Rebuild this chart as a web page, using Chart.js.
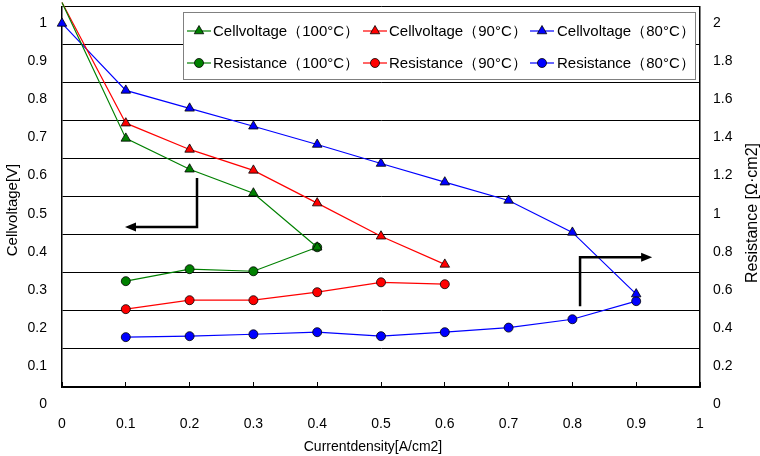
<!DOCTYPE html>
<html>
<head>
<meta charset="utf-8">
<script src="https://cdn.jsdelivr.net/npm/chart.js@4.4.1/dist/chart.umd.min.js"></script>
<style>
  body { margin: 0; background: #fff; }
  #chart { display: block; }
</style>
</head>
<body>
<canvas id="chart" width="760" height="456"></canvas>
<script>
// current density categories [A/cm2]
const currentDensity = [0, 0.1, 0.2, 0.3, 0.4, 0.5, 0.6, 0.7, 0.8, 0.9];

// cell voltage [V]
const cellVoltage100 = [1.055, 0.698, 0.617, 0.554, 0.412];
const cellVoltage90 = [1.055, 0.738, 0.669, 0.614, 0.528, 0.441, 0.367];
const cellVoltage80 = [1.0, 0.824, 0.777, 0.730, 0.682, 0.632, 0.583, 0.535, 0.451, 0.289];

// resistance [Ohm cm2]
const resistance100 = [null, 0.646, 0.709, 0.698, 0.824];
const resistance90 = [null, 0.499, 0.546, 0.546, 0.588, 0.640, 0.630];
const resistance80 = [null, 0.352, 0.357, 0.367, 0.378, 0.357, 0.378, 0.402, 0.446, 0.541];

// tick labels
const xTickLabels = ["0", "0.1", "0.2", "0.3", "0.4", "0.5", "0.6", "0.7", "0.8", "0.9", "1"];
const yTickLabels = ["0", "0.1", "0.2", "0.3", "0.4", "0.5", "0.6", "0.7", "0.8", "0.9", "1"];
const y2TickLabels = ["0", "0.2", "0.4", "0.6", "0.8", "1", "1.2", "1.4", "1.6", "1.8", "2"];

const labelFont = "Arial, 'Liberation Sans', sans-serif";
const tickFont = "'Liberation Sans Narrow', 'Arial Narrow', Arial, 'Liberation Sans', sans-serif";

// the gridlines of the original sit half a step above the labelled values
const yShift = 0.045;
const y2Shift = 0.09;

function points(values) {
    return values.map((v, i) => ({ x: currentDensity[i], y: v }));
}

function series(label, values, color, style, axis, hideFirst) {
    return {
        label: label,
        data: points(values),
        yAxisID: axis,
        borderColor: color,
        backgroundColor: color,
        borderWidth: 1.2,
        pointStyle: style,
        pointRadius: values.map((v, i) => (hideFirst && i === 0) ? 0 : (style === "triangle" ? 5.5 : 4.5)),
        pointBorderColor: "#000",
        pointBorderWidth: 0.8,
        pointBackgroundColor: color,
        spanGaps: false,
        clip: 8,
        tension: 0
    };
}

const green = "#008000";
const red = "#ff0000";
const blue = "#0000ff";

const datasets = [
    series("Cellvoltage（100°C）", cellVoltage100, green, "triangle", "y", true),
    series("Cellvoltage（90°C）", cellVoltage90, red, "triangle", "y", true),
    series("Cellvoltage（80°C）", cellVoltage80, blue, "triangle", "y", false),
    series("Resistance（100°C）", resistance100, green, "circle", "y2", false),
    series("Resistance（90°C）", resistance90, red, "circle", "y2", false),
    series("Resistance（80°C）", resistance80, blue, "circle", "y2", false)
];

//Legend box inside the plot, 3 columns x 2 rows
const legendBox = { left: 183.5, top: 12.5, right: 695.5, bottom: 79.5 };
const legendMarkerX = [199, 375, 542];
const legendTextX = [213, 389, 557];
const legendRowY = [31, 63];

const boxLegend = {
    id: "boxLegend",
    afterDatasetsDraw(chart) {
        const ctx = chart.ctx;
        ctx.save();
        ctx.fillStyle = "#fff";
        ctx.strokeStyle = "#808080";
        ctx.lineWidth = 1;
        ctx.fillRect(legendBox.left, legendBox.top, legendBox.right - legendBox.left, legendBox.bottom - legendBox.top);
        ctx.strokeRect(legendBox.left, legendBox.top, legendBox.right - legendBox.left, legendBox.bottom - legendBox.top);
        chart.data.datasets.forEach((ds, i) => {
            const col = i % 3;
            const row = Math.floor(i / 3);
            const mx = legendMarkerX[col];
            const my = legendRowY[row];
            ctx.strokeStyle = ds.borderColor;
            ctx.lineWidth = 1.2;
            ctx.beginPath();
            ctx.moveTo(mx - 12, my);
            ctx.lineTo(mx + 12, my);
            ctx.stroke();
            ctx.fillStyle = ds.pointBackgroundColor;
            ctx.strokeStyle = "#000";
            ctx.lineWidth = 0.8;
            Chart.helpers.drawPoint(ctx, {
                pointStyle: ds.pointStyle,
                radius: ds.pointStyle === "triangle" ? 5.5 : 4.5,
                borderWidth: 0.8,
                rotation: 0
            }, mx, my);
            ctx.fillStyle = "#000";
            ctx.font = "15px " + labelFont;
            ctx.textAlign = "left";
            ctx.textBaseline = "middle";
            ctx.fillText(ds.label, legendTextX[col], my + 1);
        });
        ctx.restore();
    }
};

// arrows pointing to the axis each group belongs to (in left-axis units)
const arrows = [
    { from: [0.2116, 0.594], corner: [0.2116, 0.465], to: [0.0987, 0.465] },
    { from: [0.812, 0.257], corner: [0.812, 0.386], to: [0.925, 0.386] }
];

const axisArrows = {
    id: "axisArrows",
    afterDatasetsDraw(chart) {
        const ctx = chart.ctx;
        const xs = chart.scales.x;
        const ys = chart.scales.y;
        ctx.save();
        ctx.strokeStyle = "#000";
        ctx.fillStyle = "#000";
        ctx.lineWidth = 2.5;
        arrows.forEach(a => {
            const x1 = xs.getPixelForValue(a.from[0]), y1 = ys.getPixelForValue(a.from[1]);
            const x2 = xs.getPixelForValue(a.corner[0]), y2 = ys.getPixelForValue(a.corner[1]);
            const x3 = xs.getPixelForValue(a.to[0]), y3 = ys.getPixelForValue(a.to[1]);
            const dir = Math.sign(x3 - x2);
            ctx.beginPath();
            ctx.moveTo(x1, y1);
            ctx.lineTo(x2, y2);
            ctx.lineTo(x3 - dir * 8, y3);
            ctx.stroke();
            ctx.beginPath();
            ctx.moveTo(x3, y3);
            ctx.lineTo(x3 - dir * 11, y3 - 4.5);
            ctx.lineTo(x3 - dir * 11, y3 + 4.5);
            ctx.closePath();
            ctx.fill();
        });
        ctx.restore();
    }
};

// axis titles (right one reads bottom-to-top like the left one)
const axisTitles = {
    id: "axisTitles",
    afterDraw(chart) {
        const ctx = chart.ctx;
        ctx.save();
        ctx.fillStyle = "#000";
        ctx.textAlign = "center";
        ctx.textBaseline = "middle";
        ctx.font = "14px " + labelFont;
        ctx.fillText("Currentdensity[A/cm2]", 373, 447);
        ctx.font = "15px " + labelFont;
        ctx.translate(13, 210);
        ctx.rotate(-Math.PI / 2);
        ctx.fillText("Cellvoltage[V]", 0, 0);
        ctx.restore();
        ctx.save();
        ctx.fillStyle = "#000";
        ctx.textAlign = "center";
        ctx.textBaseline = "middle";
        ctx.font = "16px " + labelFont;
        ctx.translate(753, 213);
        ctx.rotate(-Math.PI / 2);
        ctx.fillText("Resistance [Ω·cm2]", 0, 0);
        ctx.restore();
    }
};

// keep the plot area exactly where the original has it
function noPad(s) {
    s.paddingTop = 0;
    s.paddingBottom = 0;
    s.paddingLeft = 0;
    s.paddingRight = 0;
}

const chart = document.querySelector("#chart").getContext("2d");

new Chart(chart, {
    type: "line",
    data: { datasets: datasets },
    options: {
        responsive: false,
        animation: false,
        layout: { padding: { top: 6, left: 0, right: 0, bottom: 0 } },
        plugins: {
            legend: { display: false },
            tooltip: { enabled: false }
        },
        scales: {
            x: {
                type: "linear",
                min: 0,
                max: 1,
                afterBuildTicks: s => { s.ticks = xTickLabels.map((t, i) => ({ value: i / 10 })); },
                afterFit: s => { s.height = 69; noPad(s); },
                ticks: {
                    callback: (v, i) => xTickLabels[i],
                    color: "#000",
                    font: { family: tickFont, size: 14 },
                    padding: 34,
                    maxRotation: 0,
                    autoSkip: false
                },
                grid: { drawOnChartArea: false, drawTicks: true, tickLength: -5, tickColor: "#000", tickWidth: 1 },
                border: { color: "#000", width: 1.5 }
            },
            y: {
                position: "left",
                min: yShift,
                max: 1 + yShift,
                afterBuildTicks: s => { s.ticks = yTickLabels.map((t, i) => ({ value: i / 10 + yShift })); },
                afterFit: s => { s.width = 62; noPad(s); },
                ticks: {
                    callback: (v, i) => yTickLabels[i],
                    color: "#000",
                    font: { family: tickFont, size: 14 },
                    padding: 15,
                    labelOffset: 17,
                    autoSkip: false
                },
                grid: { color: "#000", lineWidth: 1, drawTicks: false },
                border: { color: "#000", width: 1.5 }
            },
            y2: {
                position: "right",
                min: y2Shift,
                max: 2 + y2Shift,
                afterBuildTicks: s => { s.ticks = y2TickLabels.map((t, i) => ({ value: i / 5 + y2Shift })); },
                afterFit: s => { s.width = 60; noPad(s); },
                ticks: {
                    callback: (v, i) => y2TickLabels[i],
                    color: "#000",
                    font: { family: tickFont, size: 14 },
                    padding: 13,
                    labelOffset: 17,
                    autoSkip: false
                },
                grid: { drawOnChartArea: false, drawTicks: false },
                border: { color: "#000", width: 1.5 }
            }
        }
    },
    plugins: [axisArrows, boxLegend, axisTitles]
});
</script>
</body>
</html>
